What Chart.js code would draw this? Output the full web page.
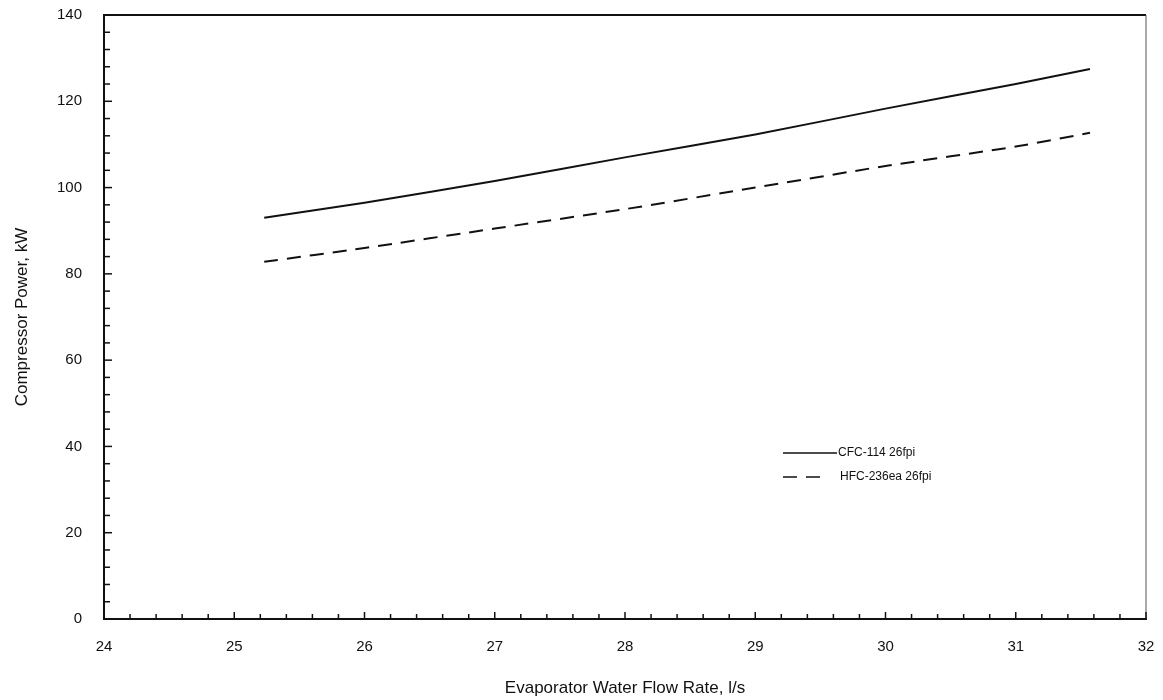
<!DOCTYPE html>
<html>
<head>
<meta charset="utf-8">
<script src="https://cdn.jsdelivr.net/npm/chart.js"></script>
<style>
  html, body { margin: 0; padding: 0; background: #fff; }
  #wrap { width: 1163px; height: 700px; }
</style>
</head>
<body>
<div id="wrap"><canvas id="powerChart" width="1163" height="700"></canvas></div>
<script>
// values
const flowRate = [25.23, 26, 27, 28, 29, 30, 31, 31.57];
const cfc114 = [93, 96.5, 101.5, 107, 112.3, 118.3, 124, 127.5];
const hfc236ea = [82.8, 86, 90.5, 95, 100, 105, 109.5, 112.7];
const seriesNames = ['CFC-114 26fpi', 'HFC-236ea 26fpi'];

const toPoints = (xs, ys) => xs.map((x, i) => ({ x: x, y: ys[i] }));

// inward minor ticks, frame and in-plot legend
const framePlugin = {
  id: 'frame',
  afterDraw(chart) {
    const ctx = chart.ctx;
    const a = chart.chartArea;
    const xs = chart.scales.x, ys = chart.scales.y;
    ctx.save();
    ctx.strokeStyle = '#111';
    ctx.lineWidth = 2;
    ctx.beginPath();
    ctx.moveTo(a.left, a.top); ctx.lineTo(a.right, a.top);
    ctx.stroke();
    ctx.lineWidth = 1;
    ctx.strokeStyle = '#555';
    ctx.beginPath();
    ctx.moveTo(a.right, a.top); ctx.lineTo(a.right, a.bottom);
    ctx.stroke();

    ctx.strokeStyle = '#111';
    ctx.lineWidth = 1.5;
    for (let i = 0; i <= 35; i++) {
      const py = ys.getPixelForValue(i * 4);
      const len = (i % 5 === 0) ? 8 : 6;
      ctx.beginPath();
      ctx.moveTo(a.left, py); ctx.lineTo(a.left + len, py);
      ctx.stroke();
    }
    for (let i = 0; i <= 40; i++) {
      const px = xs.getPixelForValue(24 + i * 0.2);
      const len = (i % 5 === 0) ? 7 : 5;
      ctx.beginPath();
      ctx.moveTo(px, a.bottom); ctx.lineTo(px, a.bottom - len);
      ctx.stroke();
    }

    // legend
    ctx.font = '12px "Liberation Sans", Arial, sans-serif';
    ctx.fillStyle = '#111';
    ctx.textBaseline = 'middle';
    chart.data.datasets.forEach((ds, i) => {
      const y = 453 + i * 24;
      ctx.strokeStyle = ds.borderColor;
      ctx.lineWidth = 1.5;
      ctx.setLineDash(ds.borderDash || []);
      ctx.beginPath();
      ctx.moveTo(783, y); ctx.lineTo(i === 0 ? 837 : 828, y);
      ctx.stroke();
      ctx.setLineDash([]);
      ctx.fillText(ds.label, i === 0 ? 838 : 840, y);
    });
    ctx.restore();
  }
};

const font = '"Liberation Sans", Arial, sans-serif';
const ctx = document.getElementById('powerChart').getContext('2d');
const chart = new Chart(ctx, {
  type: 'scatter',
  data: {
    datasets: [{
      label: seriesNames[0],
      data: toPoints(flowRate, cfc114),
      showLine: true,
      borderColor: '#111',
      borderWidth: 2,
      pointRadius: 0,
      tension: 0.2
    }, {
      label: seriesNames[1],
      data: toPoints(flowRate, hfc236ea),
      showLine: true,
      borderColor: '#111',
      borderWidth: 2,
      borderDash: [14, 9],
      pointRadius: 0,
      tension: 0.2
    }]
  },
  options: {
    responsive: false,
    animation: false,
    layout: { padding: { top: 15, right: 17, left: 0, bottom: 0 } },
    plugins: {
      legend: { display: false },
      tooltip: { enabled: false }
    },
    scales: {
      x: {
        type: 'linear',
        min: 24, max: 32,
        afterFit(scale) {
          scale.height = 81;
          scale.paddingLeft = 0;
          scale.paddingRight = 0;
        },
        ticks: {
          stepSize: 1,
          padding: 11,
          color: '#111',
          font: { family: font, size: 15 }
        },
        grid: { display: false },
        border: { display: true, color: '#111', width: 2 },
        title: {
          display: true,
          text: 'Evaporator Water Flow Rate, l/s',
          color: '#111',
          padding: { top: 4, bottom: 1 },
          font: { family: font, size: 17 }
        }
      },
      y: {
        min: 0, max: 140,
        afterFit(scale) {
          scale.width = 104;
          scale.paddingTop = 0;
          scale.paddingBottom = 0;
        },
        ticks: {
          stepSize: 20,
          padding: 14,
          color: '#111',
          font: { family: font, size: 15 }
        },
        grid: { display: false },
        border: { display: true, color: '#111', width: 2 },
        title: {
          display: true,
          text: 'Compressor Power, kW',
          color: '#111',
          padding: { top: 12, bottom: 0 },
          font: { family: font, size: 17 }
        }
      }
    }
  },
  plugins: [framePlugin]
});
</script>
</body>
</html>
